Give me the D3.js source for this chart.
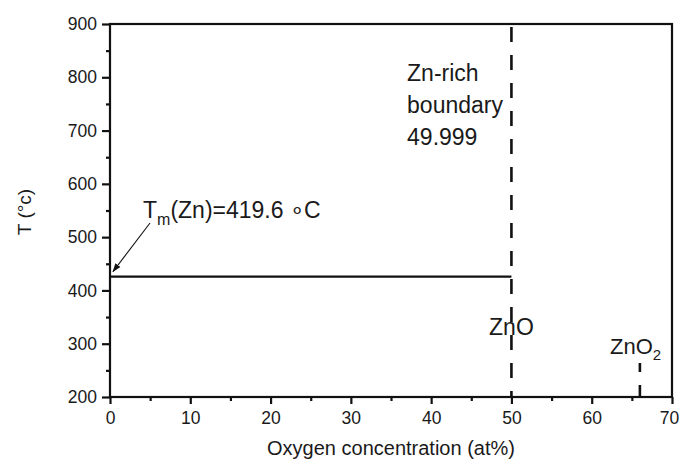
<!DOCTYPE html>
<html><head><meta charset="utf-8">
<script src="https://cdn.jsdelivr.net/npm/d3@7"></script>
<style>body{margin:0;background:#fff}svg{display:block}text{font-family:"Liberation Sans",Arial,sans-serif;fill:#1a1a1a}</style>
</head><body><svg id="c" width="680" height="466"></svg>
<script>
const xTicks=[0,10,20,30,40,50,60,70];
const yTicks=[200,300,400,500,600,700,800,900];
const meltLine=[{x:0,y:426},{x:50,y:426}];
const znoBoundary=[{x:50,y:900},{x:50,y:200}];
const zno2Line=[{x:66,y:264},{x:66,y:200}];
const boundaryLines=["Zn-rich","boundary","49.999"];

const svg=d3.select("#c");
const m={l:110,r:8,t:24,b:69};
const W=680,H=466;
const x=d3.scaleLinear().domain([0,70]).range([m.l,W-m.r]);
const y=d3.scaleLinear().domain([200,900]).range([H-m.b,m.t]);

// minor ticks
const gx=svg.append("g").attr("transform",`translate(0,${H-m.b})`)
  .call(d3.axisBottom(x).tickValues(d3.range(5,70,10)).tickSize(4).tickFormat(""));
const gy=svg.append("g").attr("transform",`translate(${m.l},0)`)
  .call(d3.axisLeft(y).tickValues(d3.range(250,900,100)).tickSize(4).tickFormat(""));
const gx2=svg.append("g").attr("transform",`translate(0,${H-m.b})`)
  .call(d3.axisBottom(x).tickValues(xTicks).tickSize(7).tickPadding(8));
const gy2=svg.append("g").attr("transform",`translate(${m.l},0)`)
  .call(d3.axisLeft(y).tickValues(yTicks).tickSize(8).tickPadding(5));
[gx,gy,gx2,gy2].forEach(g=>{g.select(".domain").remove();g.selectAll("line").attr("stroke","#111").attr("stroke-width",2.2);});
gx2.selectAll("text").attr("font-size",17.5).attr("fill","#252525")
  .attr("dx",d=>d===70?"-3":null);
gy2.selectAll("text").attr("font-size",17.5).attr("fill","#252525");

// frame
svg.append("rect").attr("x",x(0)).attr("y",y(900)).attr("width",x(70)-x(0)).attr("height",y(200)-y(900))
  .attr("fill","none").attr("stroke","#111").attr("stroke-width",2.2);

const line=d3.line().x(d=>x(d.x)).y(d=>y(d.y));
svg.append("path").attr("d",line(meltLine)).attr("fill","none").attr("stroke","#111").attr("stroke-width",2.2);
svg.append("path").attr("d",line(znoBoundary)).attr("fill","none").attr("stroke","#111").attr("stroke-width",2.6).attr("stroke-dasharray","15,13").attr("stroke-dashoffset",-3);
svg.append("path").attr("d",line(zno2Line)).attr("fill","none").attr("stroke","#111").attr("stroke-width",2.6).attr("stroke-dasharray","9,13,15,13");

// arrow
svg.append("defs").append("marker").attr("id","ah").attr("viewBox","0 0 10 10").attr("refX",9).attr("refY",5)
  .attr("markerWidth",9).attr("markerHeight",9).attr("markerUnits","userSpaceOnUse").attr("orient","auto")
  .append("path").attr("d","M0,1.5 L10,5 L0,8.5 Z").attr("fill","#111");
svg.append("line").attr("x1",150).attr("y1",223).attr("x2",x(0)+3).attr("y2",y(meltLine[0].y)-5)
  .attr("stroke","#111").attr("stroke-width",1.1).attr("marker-end","url(#ah)");

const t=svg.append("text").attr("x",143).attr("y",218).attr("font-size",23);
t.append("tspan").text("T");
t.append("tspan").attr("font-size",16).attr("dy",7).text("m");
t.append("tspan").attr("dy",-7).text("(Zn)=419.6 \u2218C");

const b=svg.append("text").attr("font-size",23);
boundaryLines.forEach((s,i)=>b.append("tspan").attr("x",x(37)).attr("y",81+i*32).text(s));

svg.append("text").attr("x",x(50)).attr("y",335).attr("text-anchor","middle").attr("font-size",23).text("ZnO");
const z2=svg.append("text").attr("x",610).attr("y",354).attr("font-size",22);
z2.append("tspan").text("ZnO");
z2.append("tspan").attr("font-size",15).attr("dy",6).text("2");

svg.append("text").attr("x",(x(0)+x(70))/2).attr("y",455).attr("text-anchor","middle").attr("font-size",20).text("Oxygen concentration (at%)");
svg.append("text").attr("transform",`translate(31,212) rotate(-90)`).attr("text-anchor","middle").attr("font-size",19).text("T (\u00b0c)");
</script></body></html>
